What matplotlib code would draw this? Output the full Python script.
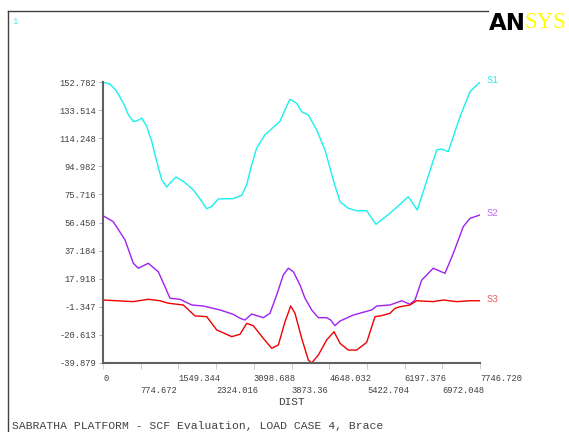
"""
ANSYS path plot: principal stresses S1/S2/S3 along brace distance.
"""

import matplotlib
matplotlib.use('Agg')
import matplotlib.pyplot as plt
from matplotlib.lines import Line2D

# ── Data ───────────────────────────────────────────────────────────────────
dist_s1 = [0, 144, 281, 417, 520, 623, 705, 795, 898, 1001, 1103, 1206, 1309,
           1412, 1500, 1650, 1855, 2028, 2131, 2234, 2369, 2677, 2850, 2953,
           3055, 3158, 3329, 3499, 3637, 3740, 3842, 3980, 4083, 4219, 4391,
           4562, 4732, 4870, 5040, 5213, 5419, 5610, 5897, 6103, 6273, 6458,
           6857, 6960, 7095, 7336, 7541, 7746.72]
s1 = [152.6, 151.4, 146.4, 138.4, 130.4, 125.8, 126.2, 128.1, 122.4, 112.1,
      98.4, 85.8, 80.8, 84.7, 87.6, 84.7, 78.9, 71.0, 65.9, 67.5, 72.6, 72.8,
      75.1, 82.4, 96.1, 107.5, 116.6, 121.7, 125.8, 133.8, 140.9, 138.2,
      132.4, 130.2, 119.9, 106.2, 85.6, 70.7, 66.2, 64.5, 64.5, 55.2, 62.8,
      68.9, 74.1, 65.0, 106.2, 106.8, 105.0, 129.0, 146.1, 152.782]

dist_s2 = [0, 212, 452, 623, 725, 931, 1136, 1274, 1377, 1582, 1823, 2061,
           2404, 2677, 2815, 2918, 3055, 3294, 3431, 3569, 3705, 3808, 3911,
           4048, 4151, 4288, 4425, 4596, 4678, 4767, 4870, 5143, 5521, 5624,
           5897, 6138, 6308, 6411, 6549, 6787, 7027, 7198, 7403, 7541, 7746.72]
s2 = [61.1, 57.0, 44.5, 28.5, 25.1, 28.5, 22.7, 12.4, 4.5, 3.8, -0.1, -0.8,
      -3.5, -6.5, -9.2, -10.4, -6.3, -8.8, -5.8, 6.8, 20.5, 25.1, 22.7, 13.6,
      4.5, -3.5, -8.8, -8.8, -10.4, -14.3, -11.1, -7.0, -3.5, -0.8, -0.1, 2.8,
      0.4, 3.3, 17.0, 25.1, 21.6, 35.3, 53.6, 59.3, 61.6]

dist_s3 = [0, 623, 931, 1171, 1342, 1650, 1890, 2131, 2336, 2645, 2815, 2953,
           3088, 3294, 3466, 3603, 3740, 3857, 3945, 4083, 4219, 4288, 4425,
           4596, 4747, 4870, 5040, 5213, 5419, 5589, 5727, 5897, 6000, 6103,
           6308, 6446, 6787, 6993, 7268, 7541, 7746.72]
s3 = [3.3, 2.2, 3.8, 2.8, 1.1, -0.1, -7.6, -8.1, -17.2, -21.8, -20.2, -12.7,
      -14.3, -23.0, -29.8, -27.5, -11.6, -0.8, -5.8, -23.0, -37.8, -39.879,
      -34.4, -24.1, -18.4, -26.4, -31.0, -31.0, -25.7, -8.1, -7.4, -5.8, -2.4,
      -1.3, -0.1, 2.8, 2.2, 3.3, 2.2, 2.8, 2.8]

x_ticks = [0, 774.672, 1549.344, 2324.016, 3098.688, 3873.36, 4648.032,
           5422.704, 6197.376, 6972.048, 7746.720]
x_tick_labels = ['0', '774.672', '1549.344', '2324.016', '3098.688', '3873.36',
                 '4648.032', '5422.704', '6197.376', '6972.048', '7746.720']
y_ticks = [152.782, 133.514, 114.248, 94.982, 75.716, 56.450, 37.184, 17.918,
           -1.347, -20.613, -39.879]
y_tick_labels = ['152.782', '133.514', '114.248', '94.982', '75.716', '56.450',
                 '37.184', '17.918', '-1.347', '-20.613', '-39.879']

series = [
    (dist_s1, s1, 'S1', '#19f0f0', '#30e8f0'),
    (dist_s2, s2, 'S2', '#a020f0', '#c070f0'),
    (dist_s3, s3, 'S3', '#f00000', '#f06060'),
]

MONO = 'Liberation Mono'
TXT = '#404040'

fig = plt.figure(figsize=(5.69, 4.32), dpi=100)
ax = fig.add_axes([103 / 569, 1 - 363 / 432, 377 / 569, 281 / 432])

for xs, ys, name, c_line, c_lab in series:
    ax.plot(xs, ys, color=c_line, lw=1.0, solid_joinstyle='round')
    ax.annotate(name, xy=(xs[-1], ys[-1]), xytext=(5, 1.5),
                textcoords='offset points', color=c_lab, family=MONO,
                fontsize=7.2, va='center', ha='left', annotation_clip=False)

ax.set_xlim(0, 7746.72)
ax.set_ylim(-39.879, 152.782)
for side in ('top', 'right'):
    ax.spines[side].set_visible(False)
for side in ('left', 'bottom'):
    ax.spines[side].set_color('#606060')
    ax.spines[side].set_linewidth(1.5)

ax.set_yticks(y_ticks)
ax.set_yticklabels(y_tick_labels, family=MONO, fontsize=6.3, color=TXT)
ax.tick_params(axis='y', length=3, width=0.6, color='#a0a0a0', pad=2)

ax.set_xticks(x_ticks)
ax.set_xticklabels([])
ax.tick_params(axis='x', length=4, width=0.6, color='#c8c8c8')
# staggered x labels, left-aligned on the tick like ANSYS draws them
for i, (xv, lab) in enumerate(zip(x_ticks, x_tick_labels)):
    yrow = -0.054 if i % 2 == 0 else -0.097
    ax.text(xv, yrow, lab, transform=ax.get_xaxis_transform(), ha='left',
            va='center', family=MONO, fontsize=6.3, color=TXT)
ax.text(0.5, -0.14, 'DIST', transform=ax.transAxes, ha='center', va='center',
        family=MONO, fontsize=8, color=TXT)

# ── Window frame, window number, logo, title ───────────────────────────────
fig.add_artist(Line2D([8 / 569, 8 / 569], [0, 1 - 11 / 432],
                      transform=fig.transFigure, color='#404040', lw=1.0))
fig.add_artist(Line2D([8 / 569, 488 / 569], [1 - 11 / 432, 1 - 11 / 432],
                      transform=fig.transFigure, color='#404040', lw=1.0))
fig.text(12 / 569, 1 - 22 / 432, '1', family=MONO, fontsize=6.5,
         color='#40f0f0', va='center', ha='left')
fig.text(489 / 569, 1 - 23 / 432, 'AN', family='DejaVu Sans',
         fontweight='heavy', fontsize=16.5, color='black', va='center',
         ha='left')
fig.text(525 / 569, 1 - 22 / 432, 'SYS', family='Liberation Serif',
         fontsize=16.5, color='#ffff00', va='center', ha='left')

fig.text(12 / 569, 1 - 426 / 432,
         'SABRATHA PLATFORM - SCF Evaluation, LOAD CASE 4, Brace',
         family=MONO, fontsize=8.2, color=TXT, va='center', ha='left')

fig.savefig('out.png', dpi=100)
